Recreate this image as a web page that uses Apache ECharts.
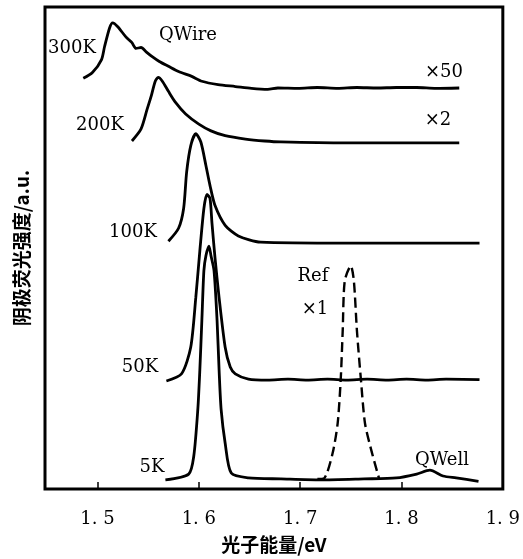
<!DOCTYPE html>
<html>
<head>
<meta charset="utf-8">
<script src="https://cdn.jsdelivr.net/npm/echarts@6/dist/echarts.min.js"></script>
<style>
  html, body { margin: 0; padding: 0; background: #fff; }
  #chart { width: 523px; height: 559px; }
</style>
</head>
<body>
<div id="chart"></div>
<script>
// x tick positions and tick labels (eV)
const xTicks = [1.5, 1.6, 1.7, 1.8]
const xLabels = [1.5, 1.6, 1.7, 1.8, 1.9]

// spectra: [photon energy eV, intensity a.u.]
const k300 = [
  [1.486, 85.2], [1.495, 86.4], [1.504, 89.1], [1.507, 91.8], [1.512, 95.7],
  [1.515, 96.7], [1.520, 95.9], [1.528, 93.8], [1.534, 92.6], [1.538, 91.4],
  [1.543, 91.6], [1.548, 90.7], [1.554, 89.7], [1.561, 88.7], [1.570, 87.7],
  [1.580, 86.6], [1.593, 85.6], [1.603, 84.6], [1.619, 83.9], [1.636, 83.5],
  [1.652, 83.1], [1.668, 82.9], [1.678, 83.2], [1.698, 83.1], [1.717, 83.3],
  [1.737, 83.1], [1.756, 83.3], [1.776, 83.2], [1.795, 83.3], [1.815, 83.3],
  [1.834, 83.1], [1.857, 83.2]
]
const k200 = [
  [1.534, 72.2], [1.543, 74.7], [1.549, 78.8], [1.553, 81.5], [1.557, 84.6],
  [1.560, 85.4], [1.564, 84.6], [1.570, 82.5], [1.577, 80.2], [1.587, 77.8],
  [1.600, 75.7], [1.612, 74.3], [1.626, 73.3], [1.646, 72.6], [1.665, 72.2],
  [1.681, 72.0], [1.746, 71.8], [1.857, 71.8]
]
const k100 = [
  [1.570, 51.4], [1.580, 54.1], [1.585, 58.2], [1.588, 65.8], [1.592, 71.2],
  [1.597, 73.7], [1.602, 72.0], [1.607, 67.1], [1.611, 63.0], [1.616, 58.8],
  [1.626, 54.7], [1.639, 52.5], [1.661, 51.2], [1.746, 51.0], [1.877, 51.0]
]
const k50 = [
  [1.568, 22.4], [1.583, 23.9], [1.592, 29.4], [1.597, 39.7], [1.601, 49.4],
  [1.605, 58.2], [1.608, 61.1], [1.611, 60.3], [1.613, 55.1], [1.616, 47.9],
  [1.620, 39.7], [1.626, 29.4], [1.631, 25.3], [1.636, 23.9], [1.649, 22.8],
  [1.668, 22.6], [1.688, 22.8], [1.707, 22.6], [1.727, 22.8], [1.746, 22.6],
  [1.766, 22.8], [1.786, 22.6], [1.805, 22.8], [1.825, 22.6], [1.844, 22.8],
  [1.877, 22.7]
]
const k5 = [
  [1.567, 1.9], [1.590, 3.1], [1.595, 6.8], [1.599, 16.5], [1.601, 24.7],
  [1.603, 35.0], [1.605, 45.3], [1.607, 48.4], [1.610, 50.4], [1.612, 48.4],
  [1.615, 45.3], [1.618, 35.0], [1.620, 24.7], [1.622, 16.5], [1.626, 9.5],
  [1.632, 3.3], [1.649, 2.3], [1.681, 2.1], [1.720, 1.9], [1.763, 2.1],
  [1.795, 2.3], [1.815, 3.1], [1.828, 3.9], [1.841, 2.7], [1.854, 2.3],
  [1.876, 1.6]
]
const ref = [
  [1.717, 2.1], [1.724, 2.3], [1.732, 7.4], [1.737, 13.6], [1.740, 22.6],
  [1.742, 32.9], [1.744, 43.2], [1.750, 46.3], [1.753, 43.2], [1.756, 32.9],
  [1.760, 22.6], [1.764, 13.6], [1.771, 7.4], [1.778, 2.1]
]

const serif = '18px "DejaVu Serif"'
const notes = [
  ['300K', 72, 48], ['QWire', 188, 35], ['×50', 444, 72],
  ['200K', 100, 125], ['×2', 438, 120], ['100K', 133, 232],
  ['Ref', 313, 276], ['×1', 315, 309], ['50K', 140, 367],
  ['5K', 152, 467], ['QWell', 442, 460]
]

const chart = echarts.init(document.getElementById('chart'))

function curve(data, dashed) {
  return {
    type: 'line',
    data: data,
    symbol: 'none',
    smooth: 0.25,
    lineStyle: {
      color: '#000',
      width: dashed ? 2.4 : 2.8,
      type: dashed ? [10, 5] : 'solid'
    },
    silent: true
  }
}

chart.setOption({
  animation: false,
  grid: {
    left: 45,
    right: 16,
    top: 7,
    bottom: 66,
    show: true,
    borderColor: '#000',
    borderWidth: 3
  },
  xAxis: {
    type: 'value',
    min: 1.4482,
    max: 1.9,
    axisLine: { show: false },
    splitLine: { show: false },
    axisTick: {
      inside: true,
      length: 7,
      lineStyle: { color: '#000', width: 1.5 },
      customValues: xTicks
    },
    axisLabel: {
      customValues: xLabels,
      margin: 21,
      color: '#000',
      fontFamily: 'DejaVu Serif',
      fontSize: 18,
      formatter: v => v.toFixed(1).replace('.', '. ')
    },
    name: '光子能量/eV',
    nameLocation: 'middle',
    nameGap: 46,
    nameTextStyle: {
      color: '#000',
      fontFamily: 'Noto Sans CJK SC',
      fontSize: 19,
      fontWeight: 'bold'
    }
  },
  yAxis: {
    type: 'value',
    min: 0,
    max: 100,
    axisLine: { show: false },
    axisTick: { show: false },
    axisLabel: { show: false },
    splitLine: { show: false },
    name: '阴极荧光强度/a.u.',
    nameLocation: 'middle',
    nameGap: 14,
    nameTextStyle: {
      color: '#000',
      fontFamily: 'Noto Sans CJK SC',
      fontSize: 19,
      fontWeight: 'bold'
    }
  },
  series: [
    curve(k300), curve(k200), curve(k100), curve(k50), curve(k5), curve(ref, true)
  ],
  graphic: notes.map(n => ({
    type: 'text',
    x: n[1],
    y: n[2],
    silent: true,
    style: {
      text: n[0],
      font: serif,
      fill: '#000',
      align: 'center',
      verticalAlign: 'middle'
    }
  }))
})
</script>
</body>
</html>
